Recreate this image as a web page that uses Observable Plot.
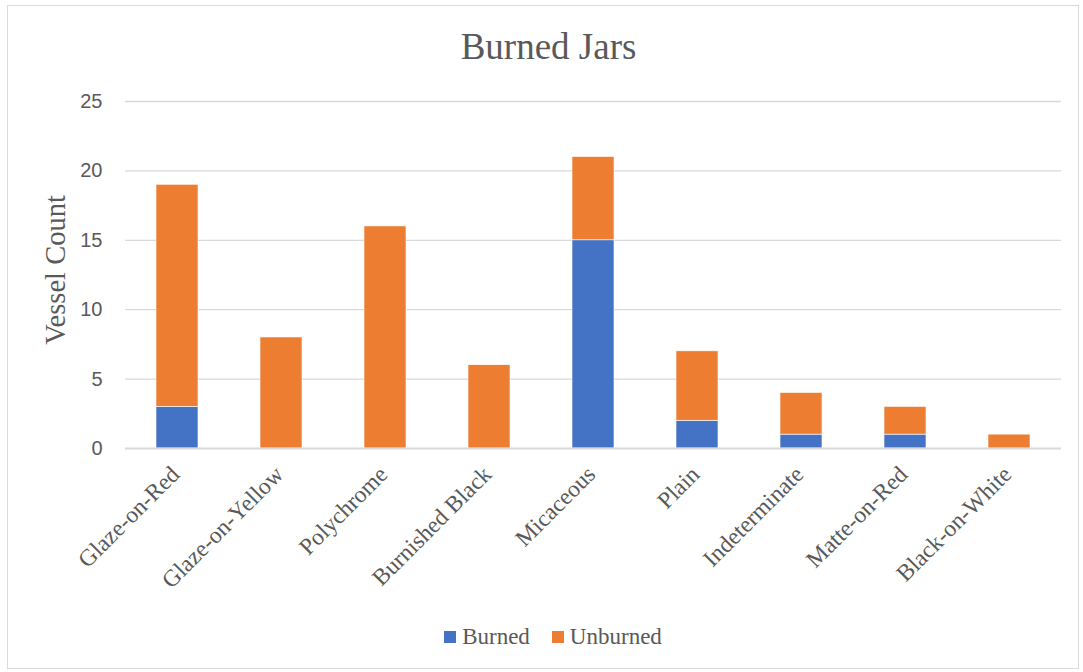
<!DOCTYPE html>
<html>
<head>
<meta charset="utf-8">
<script src="https://cdn.jsdelivr.net/npm/d3@7"></script>
<script src="https://cdn.jsdelivr.net/npm/@observablehq/plot@0.6"></script>
<style>
  html, body { margin: 0; padding: 0; background: #fff; }
  #frame { position: absolute; left: 7px; top: 5px; width: 1072px; height: 664px; border: 1px solid #d9d9d9; box-sizing: border-box; pointer-events: none; }
  #title { height: 80px; width: 1083px; text-align: center; font-family: "Liberation Serif", "Times New Roman", serif; font-size: 37px; color: #595959; line-height: 94px; padding-left: 14px; box-sizing: border-box; }
  #chart { height: 530px; }
  #legend { width: 1083px; display: flex; justify-content: center; align-items: center; gap: 22px; font-family: "Liberation Serif", "Times New Roman", serif; font-size: 23px; color: #595959; margin-top: 14px; padding-left: 23px; box-sizing: border-box; }
  .item { display: flex; align-items: center; gap: 6px; }
  .sw { width: 12px; height: 12px; display: inline-block; }
</style>
</head>
<body>
<div id="frame"></div>
<div id="title">Burned Jars</div>
<div id="chart"></div>
<div id="legend"></div>
<script>
const categories = ["Glaze-on-Red", "Glaze-on-Yellow", "Polychrome", "Burnished Black", "Micaceous", "Plain", "Indeterminate", "Matte-on-Red", "Black-on-White"];
const burned   = [3, 0, 0, 0, 15, 2, 1, 1, 0];
const unburned = [16, 8, 16, 6, 6, 5, 3, 2, 1];
const seriesNames = ["Burned", "Unburned"];
const seriesColors = ["#4472C4", "#ED7D31"];
const yTicks = [0, 5, 10, 15, 20, 25];

const rows = [];
categories.forEach((c, i) => {
  rows.push({category: c, series: "Burned", value: burned[i]});
  rows.push({category: c, series: "Unburned", value: unburned[i]});
});

const plot = Plot.plot({
  width: 1083,
  height: 530,
  marginTop: 21,
  marginBottom: 162,
  marginLeft: 125,
  marginRight: 22,
  style: { fontFamily: "Liberation Sans, Arial, sans-serif", color: "#595959", background: "transparent", overflow: "visible" },
  x: { domain: categories, paddingInner: 0.6, paddingOuter: 0.3, label: null },
  y: { domain: [0, 25], ticks: yTicks, label: null },
  color: { domain: seriesNames, range: seriesColors },
  marks: [
    Plot.gridY(yTicks.filter(t => t > 0), { stroke: "#d9d9d9", strokeOpacity: 1, strokeWidth: 1.3 }),
    Plot.barY(rows, Plot.stackY({ order: seriesNames }, { x: "category", y: "value", fill: "series", stroke: "#fff", strokeWidth: 0.6 })),
    Plot.ruleY([0], { stroke: "#d9d9d9", strokeWidth: 2 }),
    Plot.axisY({ ticks: yTicks, tickSize: 0, tickPadding: 23, fontSize: 20, fill: "#595959", label: null }),
    Plot.axisX({ tickSize: 0, tickRotate: -45, tickPadding: 22, dx: -2, fontSize: 23.5, fill: "#595959", fontFamily: "Liberation Serif, Times New Roman, serif", label: null }),
    Plot.text(["Vessel Count"], { frameAnchor: "left", dx: -70, dy: -5, rotate: -90, textAnchor: "middle", fontSize: 28.5, fill: "#595959", fontFamily: "Liberation Serif, Times New Roman, serif" })
  ]
});
document.getElementById("chart").appendChild(plot);

const legend = document.getElementById("legend");
seriesNames.forEach((s, i) => {
  const item = document.createElement("span");
  item.className = "item";
  const sw = document.createElement("span");
  sw.className = "sw";
  sw.style.background = seriesColors[i];
  item.appendChild(sw);
  const t = document.createElement("span");
  t.textContent = s;
  item.appendChild(t);
  legend.appendChild(item);
});
</script>
</body>
</html>
